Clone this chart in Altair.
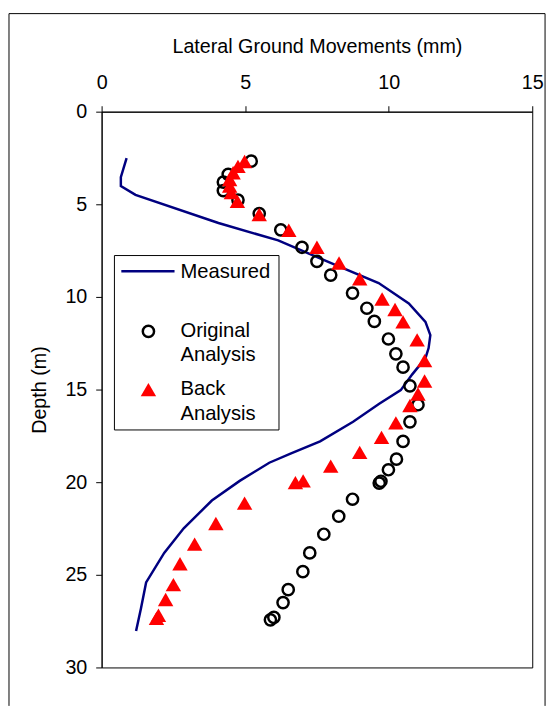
import altair as alt
import pandas as pd

# ---------------- data ----------------
meas_x = [0.87, 0.67, 0.67, 1.18, 4.07, 6.15, 8.18, 9.65, 10.7, 11.28, 11.45, 11.39, 11.28,
          10.82, 10.42, 9.67, 8.76, 7.61, 6.6, 5.84, 4.81, 3.84, 2.86, 2.18, 1.55, 1.37, 1.2]
meas_y = [2.51, 3.53, 4.01, 4.49, 6.01, 6.95, 8.3, 9.25, 10.35, 11.35, 12.06, 12.76, 13.3,
          14.18, 15.03, 15.77, 16.74, 17.8, 18.45, 18.95, 19.93, 20.99, 22.49, 23.82, 25.41, 26.82, 28.03]

orig_x = [5.21, 4.41, 4.24, 4.24, 4.75, 5.49, 6.24, 6.98, 7.5, 7.98, 8.74, 9.24, 9.5, 9.99,
          10.25, 10.5, 10.74, 11.02, 10.74, 10.5, 10.27, 9.99, 9.73, 9.67, 8.74, 8.26, 7.74,
          7.25, 7.01, 6.5, 6.32, 6.0, 5.88]
orig_y = [2.67, 3.38, 3.8, 4.26, 4.77, 5.5, 6.38, 7.32, 8.08, 8.82, 9.79, 10.61, 11.32, 12.27,
          13.07, 13.79, 14.8, 15.82, 16.74, 17.8, 18.76, 19.33, 19.95, 20.05, 20.92, 21.84, 22.81,
          23.82, 24.83, 25.8, 26.5, 27.3, 27.43]

back_x = [4.98, 4.75, 4.58, 4.46, 4.46, 4.52, 4.73, 5.49, 6.52, 7.5, 8.27, 8.99, 9.77, 10.22,
          10.5, 10.99, 11.25, 11.25, 11.02, 10.74, 10.25, 9.75, 8.99, 7.98, 7.02, 6.75, 4.98,
          3.98, 3.24, 2.73, 2.5, 2.23, 1.98, 1.91]
back_y = [2.69, 2.95, 3.3, 3.66, 4.01, 4.37, 4.84, 5.55, 6.4, 7.32, 8.17, 9.02, 10.11, 10.68,
          11.35, 12.32, 13.44, 14.54, 15.24, 15.86, 16.8, 17.58, 18.39, 19.13, 19.93, 20.02, 21.13,
          22.23, 23.34, 24.4, 25.53, 26.33, 27.18, 27.35]

x_ticks = [0, 5, 10, 15]
y_ticks = [0, 5, 10, 15, 20, 25, 30]
x_title = "Lateral Ground Movements (mm)"
y_title = "Depth (m)"
legend_labels = ["Measured", ["Original", "Analysis"], ["Back", "Analysis"]]

# ---------------- frames ----------------
meas = pd.DataFrame({"x": meas_x, "y": meas_y, "i": list(range(len(meas_x)))})
orig = pd.DataFrame({"x": orig_x, "y": orig_y})
back = pd.DataFrame({"x": back_x, "y": back_y})

FONT = "Liberation Sans"
W, H = 437, 564
NAVY = "#000080"
RED = "#ff0000"

x_scale = alt.Scale(domain=[0, 15], nice=False, zero=False)
y_scale = alt.Scale(domain=[0, 30], reverse=True, nice=False, zero=False)

x_axis = alt.Axis(orient="top", values=x_ticks, grid=False, title=x_title,
                  labelFontSize=20, titleFontSize=20, labelFont=FONT, titleFont=FONT,
                  labelColor="black", titleColor="black", titleFontWeight="normal",
                  domainColor="black", tickColor="black", tickSize=6, labelPadding=13,
                  titleX=W / 2, titleY=-66, titleBaseline="middle", titleAlign="center",
                  labelFlush=False)
y_axis = alt.Axis(orient="left", values=y_ticks, grid=False, title=y_title,
                  labelFontSize=20, titleFontSize=20, labelFont=FONT, titleFont=FONT,
                  labelColor="black", titleColor="black", titleFontWeight="normal",
                  domainColor="black", tickColor="black", tickSize=6, labelPadding=9,
                  titleX=-63, titleY=H / 2, titleAngle=-90, titleBaseline="middle",
                  titleAlign="center", labelFlush=False)

X = alt.X("x:Q", scale=x_scale, axis=x_axis)
Y = alt.Y("y:Q", scale=y_scale, axis=y_axis)

line = alt.Chart(meas).mark_line(color=NAVY, strokeWidth=2.5).encode(
    x=X, y=Y, order=alt.Order("i:Q"))
circles = alt.Chart(orig).mark_point(shape="circle", filled=False, color="black",
                                     strokeWidth=2.5, size=130, opacity=1).encode(x=X, y=Y)
tris = alt.Chart(back).mark_point(shape="triangle-up", filled=True, color=RED,
                                  size=245, opacity=1, strokeWidth=0).encode(x=X, y=Y)

one = alt.Data(values=[{"a": 1}])

# ---------------- legend (drawn by hand) ----------------
leg_box = alt.Chart(one).mark_rect(fill="white", stroke="black", strokeWidth=1).encode(
    x=alt.value(13), x2=alt.value(180), y=alt.value(146), y2=alt.value(323))
leg_line = alt.Chart(one).mark_rule(color=NAVY, strokeWidth=2.5).encode(
    x=alt.value(20), x2=alt.value(74), y=alt.value(162))
leg_circle = alt.Chart(one).mark_point(shape="circle", filled=False, color="black",
                                       strokeWidth=2.5, size=130, opacity=1).encode(
    x=alt.value(47.5), y=alt.value(223))
leg_tri = alt.Chart(one).mark_point(shape="triangle-up", filled=True, color=RED,
                                    size=245, opacity=1, strokeWidth=0).encode(
    x=alt.value(47.5), y=alt.value(282))
leg_t1 = alt.Chart(one).mark_text(font=FONT, fontSize=20.5, align="left", baseline="alphabetic",
                                  color="black").encode(
    x=alt.value(80), y=alt.value(169), text=alt.value(legend_labels[0]))
leg_t2 = alt.Chart(one).mark_text(font=FONT, fontSize=20.5, align="left", baseline="alphabetic",
                                  lineHeight=25, color="black").encode(
    x=alt.value(80), y=alt.value(228.5), text=alt.value(legend_labels[1]))
leg_t3 = alt.Chart(one).mark_text(font=FONT, fontSize=20.5, align="left", baseline="alphabetic",
                                  lineHeight=25, color="black").encode(
    x=alt.value(80), y=alt.value(287.5), text=alt.value(legend_labels[2]))

# ---------------- outer figure frame ----------------
frame_left = alt.Chart(one).mark_rule(color="black", strokeWidth=1).encode(
    x=alt.value(-94), y=alt.value(-99.5), y2=alt.value(603))
frame_top = alt.Chart(one).mark_rule(color="black", strokeWidth=1).encode(
    x=alt.value(-94), x2=alt.value(450), y=alt.value(-99.5))
frame_right = alt.Chart(one).mark_rule(color="black", strokeWidth=1).encode(
    x=alt.value(450), y=alt.value(-99.5), y2=alt.value(603))

chart = alt.layer(
    frame_left, frame_top, frame_right,
    line, circles, tris,
    leg_box, leg_line, leg_circle, leg_tri, leg_t1, leg_t2, leg_t3,
).properties(
    width=W, height=H,
    padding={"left": 95, "top": 100, "right": 17, "bottom": 39},
    autosize=alt.AutoSizeParams(type="none"),
    background="white",
).configure_view(stroke="black", strokeWidth=1)

chart.save("out.html", embed_options={"renderer": "svg", "actions": False})
